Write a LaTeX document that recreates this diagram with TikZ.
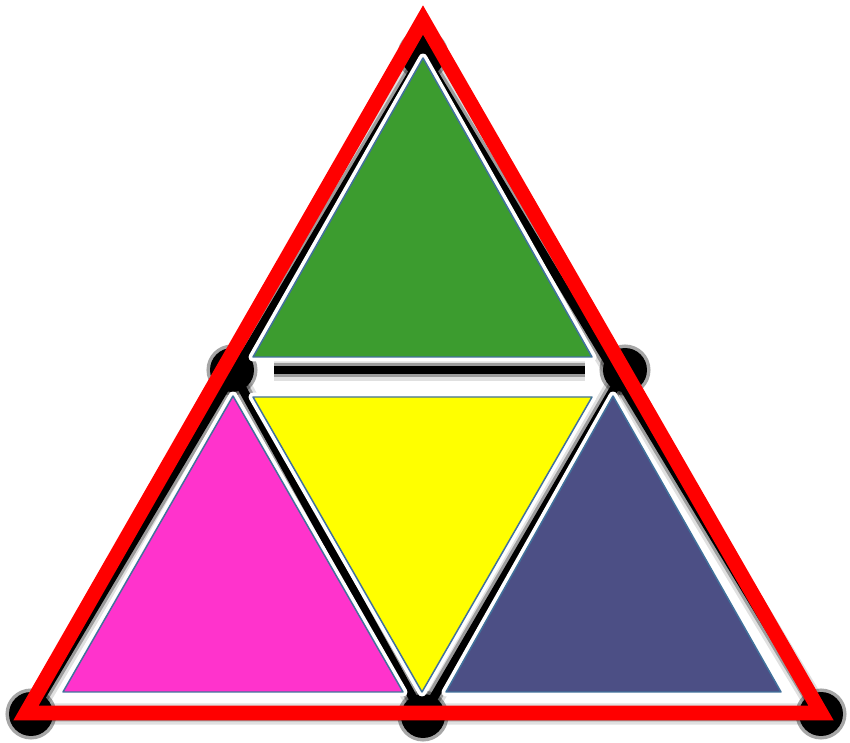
\documentclass[tikz,border=0pt]{standalone}
\usepackage{tikz}
\usetikzlibrary{calc}
\definecolor{trired}{HTML}{FF0000}
\definecolor{trigreen}{HTML}{3C9C2F}
\definecolor{triyellow}{HTML}{FFFF00}
\definecolor{trimagenta}{HTML}{FF33CC}
\definecolor{trinavy}{HTML}{4C4F85}
\definecolor{triedge}{HTML}{41719C}

\begin{document}
\begin{tikzpicture}[x=0.02cm, y=-0.02cm,
  dot/.style={circle, fill=black, minimum size=0.88cm, inner sep=0pt,
              draw=black, draw opacity=0.35, line width=4pt},
  tri/.style={draw=triedge, line width=0.85pt, line join=round,
              preaction={draw=white, line width=5pt, line join=round}},
  rim/.style={draw=trired, line width=8.3pt, line join=miter}]
\useasboundingbox (0,0) rectangle (850,743);
% black graph
\coordinate (top) at (423,55);
\coordinate (ml) at (232,370);
\coordinate (mr) at (625,370);
\coordinate (bl) at (31,714);
\coordinate (bm) at (423,716);
\coordinate (br) at (821,714);
\foreach \w/\o in {12pt/0.12, 8.5pt/0.3, 5pt/1} {
  \draw[line width=\w, opacity=\o, line join=round] (top) -- (bl) -- (br) -- cycle;
  \draw[line width=\w, opacity=\o, line join=round] (ml) -- (bm) -- (mr);
  \draw[line width=\w, opacity=\o, shorten <=0.85cm, shorten >=0.8cm] (ml) -- (mr);
}
\foreach \p in {top,ml,mr,bl,bm,br}
  \node[dot] (dot-\p) at (\p) {};
% coloured triangles
\draw[tri, fill=trigreen] (423,58) -- (253,357) -- (592,357) -- cycle;
\draw[tri, fill=triyellow] (253,397) -- (592,397) -- (422,692) -- cycle;
\draw[tri, fill=trimagenta] (233,396) -- (63,692) -- (403,692) -- cycle;
\draw[tri, fill=trinavy] (613,396) -- (446,692) -- (781,692) -- cycle;
% red outline
\coordinate (rt) at (423,20);
\coordinate (rl) at (26,713);
\coordinate (rr) at (821,713);
\draw[rim] (rt) -- (rl) -- (rr) -- cycle;
\end{tikzpicture}
\end{document}
